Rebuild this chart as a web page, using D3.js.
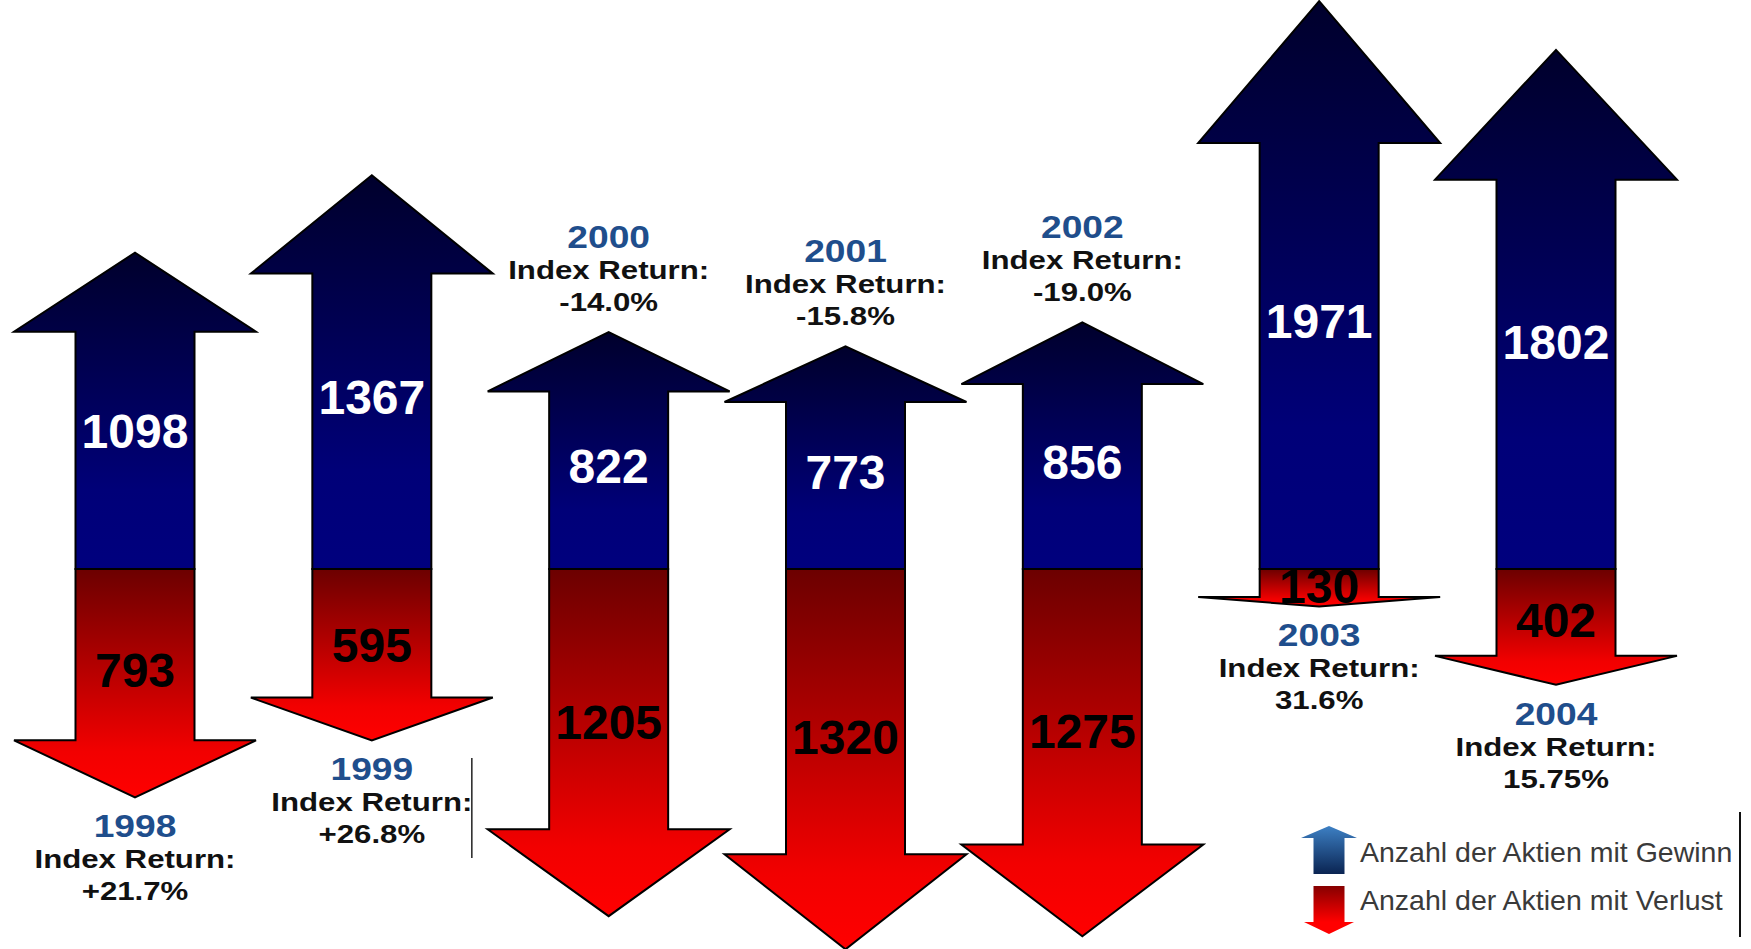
<!DOCTYPE html>
<html><head><meta charset="utf-8">
<script src="https://cdn.jsdelivr.net/npm/d3@7/dist/d3.min.js"></script>
<style>html,body{margin:0;padding:0;background:#fff;} svg{display:block;}</style>
</head><body><svg id="chart" width="1751" height="949"></svg>
<script>
// ---- data ----
const years = ["1998","1999","2000","2001","2002","2003","2004"];
const gains = [1098,1367,822,773,856,1971,1802];
const losses = [793,595,1205,1320,1275,130,402];
const indexReturns = ["+21.7%","+26.8%","-14.0%","-15.8%","-19.0%","31.6%","15.75%"];
const returnLabel = "Index Return:";
const legendLabels = ["Anzahl der Aktien mit Gewinn","Anzahl der Aktien mit Verlust"];

// ---- layout ----
const W = 1751, H = 949;
const svg = d3.select("#chart");
const FONT = "'Liberation Sans', Arial, Helvetica, sans-serif";
const x = d3.scalePoint().domain(years).range([135, 1556]);
const base = 569;
const len = d3.scaleLinear().domain([0, 1975]).range([0, 569]);
const headW = 242, shaftW = 119, headFrac = 0.25;
const stretch = 1.2;

const defs = svg.append("defs");
function grad(id, stops) {
  const g = defs.append("linearGradient").attr("id", id)
    .attr("x1", 0).attr("y1", 0).attr("x2", 0).attr("y2", 1);
  stops.forEach(s => g.append("stop").attr("offset", s[0]).attr("stop-color", s[1]));
}
grad("gUp", [[0, "#00002c"], [0.75, "#000078"], [1, "#00007e"]]);
grad("gDown", [[0, "#6c0000"], [0.8, "#f20000"], [1, "#ff0000"]]);
grad("gLegUp", [[0, "#3d80c4"], [1, "#0a2452"]]);
grad("gLegDown", [[0, "#860000"], [0.75, "#ff0000"], [1, "#ff0000"]]);

const line = d3.line();
function arrow(cx, y0, L, dir, hw, sw, hf) {
  // dir = -1 up, +1 down
  const tip = y0 + dir * L;
  const hb = tip - dir * L * hf;
  return line([
    [cx - sw / 2, y0], [cx - sw / 2, hb], [cx - hw / 2, hb], [cx, tip],
    [cx + hw / 2, hb], [cx + sw / 2, hb], [cx + sw / 2, y0]
  ]) + "Z";
}

const data = years.map((y, i) => ({
  year: y, gain: gains[i], loss: losses[i], ret: indexReturns[i]
}));

// up arrows
svg.append("g").selectAll("path").data(data).join("path")
  .attr("d", d => arrow(x(d.year), base, len(d.gain), -1, headW, shaftW, headFrac))
  .attr("fill", "url(#gUp)").attr("stroke", "#000").attr("stroke-width", 2)
  .attr("stroke-linejoin", "miter");

// down arrows
svg.append("g").selectAll("path").data(data).join("path")
  .attr("d", d => arrow(x(d.year), base, len(d.loss), 1, headW, shaftW, headFrac))
  .attr("fill", "url(#gDown)").attr("stroke", "#000").attr("stroke-width", 2)
  .attr("stroke-linejoin", "miter");

// value labels
const numSize = 48;
svg.append("g").selectAll("text").data(data).join("text")
  .attr("x", d => x(d.year))
  .attr("y", d => base - 0.437 * len(d.gain) + 0.36 * numSize)
  .attr("text-anchor", "middle").attr("font-family", FONT).attr("font-weight", "bold")
  .attr("font-size", numSize).attr("fill", "#fff")
  .text(d => d.gain);
svg.append("g").selectAll("text").data(data).join("text")
  .attr("x", d => x(d.year))
  .attr("y", d => base + 0.44 * len(d.loss) + 0.36 * numSize)
  .attr("text-anchor", "middle").attr("font-family", FONT).attr("font-weight", "bold")
  .attr("font-size", numSize).attr("fill", "#000")
  .text(d => d.loss);

// year / index return labels
const lab = svg.append("g").selectAll("g").data(data).join("g")
  .attr("transform", d => {
    const neg = parseFloat(d.ret) < 0;
    const yy = neg ? base - len(d.gain) - 84 : base + len(d.loss) + 40;
    return `translate(${x(d.year)},${yy})`;
  });
function stretchedText(sel, dy, size, color, fn) {
  sel.append("text")
    .attr("transform", `translate(0,${dy}) scale(${stretch},1)`)
    .attr("text-anchor", "middle").attr("font-family", FONT).attr("font-weight", "bold")
    .attr("font-size", size).attr("fill", color).text(fn);
}
stretchedText(lab, 0, 31, "#1f4e8c", d => d.year);
stretchedText(lab, 31, 26, "#111", () => returnLabel);
stretchedText(lab, 63, 26, "#111", d => d.ret);

// thin separator line (text-box edge in the original)
svg.append("line").attr("x1", x("1999") + 100).attr("x2", x("1999") + 100)
  .attr("y1", 758).attr("y2", 858).attr("stroke", "#222").attr("stroke-width", 1.5);

// legend
const lg = svg.append("g");
const lcx = 1329;
lg.append("path").attr("d", arrow(lcx, 874, 48, -1, 56, 31, 0.25)).attr("fill", "url(#gLegUp)");
lg.append("path").attr("d", arrow(lcx, 886, 48, 1, 50, 31, 0.25)).attr("fill", "url(#gLegDown)");
lg.selectAll("text").data(legendLabels).join("text")
  .attr("x", 1360).attr("y", (d, i) => 862 + i * 48)
  .attr("font-family", FONT).attr("font-size", 28.5).attr("fill", "#3a3a3a")
  .text(d => d);
lg.append("line").attr("x1", 1740).attr("x2", 1740).attr("y1", 812).attr("y2", 937)
  .attr("stroke", "#111").attr("stroke-width", 2);
</script>
</body></html>
